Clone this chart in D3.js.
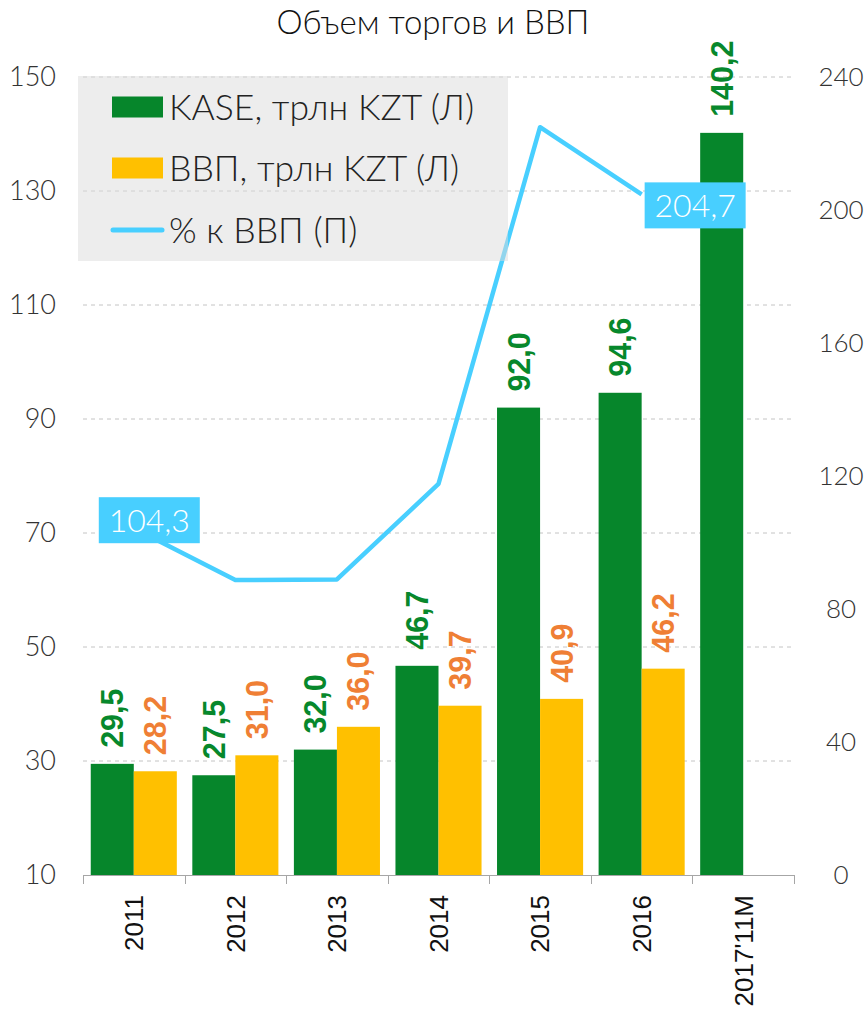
<!DOCTYPE html>
<html><head><meta charset="utf-8">
<script src="https://cdn.jsdelivr.net/npm/d3@7/dist/d3.min.js"></script>
<style>
html,body{margin:0;padding:0;background:#fff;}
svg{display:block;}
</style></head>
<body>
<svg id="chart" width="868" height="1015"></svg>
<script>
// ---- data ----
const categories = ["2011","2012","2013","2014","2015","2016","2017'11M"];
const kaseValues = [29.5, 27.5, 32.0, 46.7, 92.0, 94.6, 140.2];
const gdpValues  = [28.2, 31.0, 36.0, 39.7, 40.9, 46.2, null];
const ratioValues = [104.3, 88.7, 88.9, 117.6, 224.9, 204.7, null];
const ratioLabelIdx = [0, 5];
const leftTicks = [10, 30, 50, 70, 90, 110, 130, 150];
const rightTicks = [0, 40, 80, 120, 160, 200, 240];
const title = "Объем торгов и ВВП";
const legendItems = ["KASE, трлн KZT (Л)", "ВВП, трлн KZT (Л)", "% к ВВП (П)"];

// ---- style ----
const C = {green:"#06862b", yellow:"#ffc000", greenLbl:"#07882c", orangeLbl:"#ef7f35", line:"#48cfff", grid:"#c4c4c4", axis:"#a6a6a6", text:"#333"};
const LIGHT = "Lato, 'Open Sans', sans-serif";
const BOLD = "'Liberation Sans', Arial, sans-serif";

const svg = d3.select("#chart");
const m = {left:83, right:794, top:77, bottom:875};

const x = d3.scaleBand().domain(categories).range([m.left, m.right]).paddingInner(0).paddingOuter(0);
const xs = d3.scaleBand().domain(["kase","gdp"]).range([0, x.bandwidth()]).paddingInner(0).paddingOuter(0.18);
const yL = d3.scaleLinear().domain([10,150]).range([m.bottom, m.top]);
const yR = d3.scaleLinear().domain([0,240]).range([m.bottom, m.top]);

// title
svg.append("text").attr("x", 433).attr("y", 34).attr("text-anchor","middle")
  .attr("font-family", LIGHT).attr("font-weight",300).attr("font-size", 33).attr("fill","#111").text(title);

// gridlines
svg.append("g").selectAll("line").data(leftTicks.filter(d=>d!==10)).join("line")
  .attr("x1", m.left).attr("x2", m.right).attr("y1", d=>yL(d)).attr("y2", d=>yL(d))
  .attr("stroke", C.grid).attr("stroke-width",1).attr("stroke-dasharray","4,4");

// left axis labels
svg.append("g").selectAll("text").data(leftTicks).join("text")
  .attr("x", 56).attr("y", d=>yL(d)).attr("dy","0.35em").attr("text-anchor","end")
  .attr("font-family", LIGHT).attr("font-weight",300).attr("font-size", 27).attr("fill", C.text).text(d=>d);

// right axis labels
svg.append("g").selectAll("text").data(rightTicks).join("text")
  .attr("x", 841).attr("y", d=>yR(d)).attr("dy","0.35em").attr("text-anchor","middle")
  .attr("font-family", LIGHT).attr("font-weight",300).attr("font-size", 26).attr("fill", C.text).text(d=>d);

// bars
const rows = categories.map((c,i)=>({c, kase:kaseValues[i], gdp:gdpValues[i], r:ratioValues[i], i}));
const gBars = svg.append("g");
gBars.selectAll("rect.k").data(rows).join("rect").attr("class","k")
  .attr("x", d=>x(d.c)+xs("kase")).attr("width", xs.bandwidth())
  .attr("y", d=>yL(d.kase)).attr("height", d=>yL(10)-yL(d.kase)).attr("fill", C.green);
gBars.selectAll("rect.g").data(rows.filter(d=>d.gdp!=null)).join("rect").attr("class","g")
  .attr("x", d=>x(d.c)+xs("gdp")).attr("width", xs.bandwidth())
  .attr("y", d=>yL(d.gdp)).attr("height", d=>yL(10)-yL(d.gdp)).attr("fill", C.yellow);

// line
const cx = d => x(d.c) + x.bandwidth()/2;
const lineGen = d3.line().defined(d=>d.r!=null).x(cx).y(d=>yR(d.r));
svg.append("path").datum(rows).attr("d", lineGen).attr("fill","none")
  .attr("stroke", C.line).attr("stroke-width",4.5).attr("stroke-linejoin","round");

// legend (semi-transparent box)
svg.append("rect").attr("x",78).attr("y",76).attr("width",430).attr("height",185)
  .attr("fill","#dcdcdc").attr("fill-opacity",0.5);
const legY = [107, 168, 230];
svg.append("rect").attr("x",112).attr("y",legY[0]-10.5).attr("width",51).attr("height",21).attr("fill",C.green);
svg.append("rect").attr("x",112).attr("y",legY[1]-10.5).attr("width",51).attr("height",21).attr("fill",C.yellow);
svg.append("line").attr("x1",113).attr("x2",162).attr("y1",legY[2]).attr("y2",legY[2])
  .attr("stroke",C.line).attr("stroke-width",5).attr("stroke-linecap","round");
svg.append("g").selectAll("text").data(legendItems).join("text")
  .attr("x",169).attr("y",(d,i)=>legY[i]).attr("dy","0.36em")
  .attr("font-family", LIGHT).attr("font-weight",300).attr("font-size",35.5).attr("fill","#222").text(d=>d);

// ratio labels
const fmt = v => v.toFixed(1).replace(".", ",");
const boxOffsets = [[-35, -31], [3, -12]]; // box top-left relative to point
ratioLabelIdx.forEach((idx,k)=>{
  const d = rows[idx];
  const px = cx(d), py = yR(d.r);
  const g = svg.append("g").attr("transform",`translate(${px+boxOffsets[k][0]},${py+boxOffsets[k][1]})`);
  g.append("rect").attr("width",101).attr("height",46).attr("fill",C.line);
  g.append("text").attr("x",50.5).attr("y",23).attr("dy","0.36em").attr("text-anchor","middle")
    .attr("font-family", LIGHT).attr("font-weight",300).attr("font-size",32).attr("fill","#fff").text(fmt(d.r));
});

// bar value labels (rotated)
const addLbl = (sel, key, color, data) => sel.selectAll("text."+key).data(data).join("text").attr("class",key)
  .attr("transform", d=>`translate(${x(d.c)+xs(key)+xs.bandwidth()/2},${yL(d[key])-16}) rotate(-90)`)
  .attr("dy","0.36em").attr("text-anchor","start")
  .attr("font-family", BOLD).attr("font-weight","bold").attr("font-size",30.5).attr("fill",color).text(d=>fmt(d[key]));
const gl = svg.append("g");
addLbl(gl, "kase", C.greenLbl, rows);
addLbl(gl, "gdp", C.orangeLbl, rows.filter(d=>d.gdp!=null));

// bottom axis
const gx = svg.append("g");
gx.append("line").attr("x1",m.left).attr("x2",m.right).attr("y1",m.bottom+0.5).attr("y2",m.bottom+0.5).attr("stroke",C.axis);
const edges = categories.map(c=>x(c)).concat([m.right]);
gx.selectAll("line.t").data(edges).join("line").attr("class","t")
  .attr("x1",d=>Math.round(d)+0.5).attr("x2",d=>Math.round(d)+0.5).attr("y1",m.bottom).attr("y2",m.bottom+9).attr("stroke",C.axis);
gx.selectAll("text").data(categories).join("text")
  .attr("transform", c=>`translate(${x(c)+x.bandwidth()/2},895) rotate(-90)`)
  .attr("dy","0.36em").attr("text-anchor","end")
  .attr("font-family", BOLD).attr("font-size",26).attr("fill","#111").text(c=>c);
</script>
</body></html>
